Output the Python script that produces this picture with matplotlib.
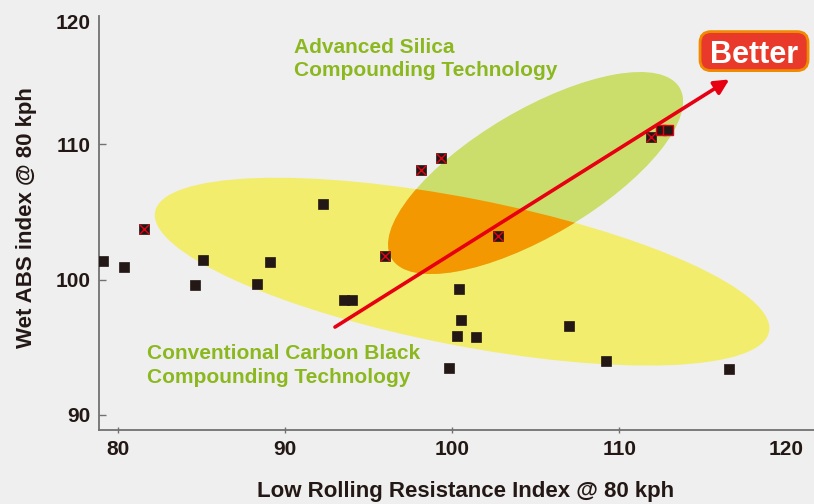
import matplotlib
matplotlib.use("Agg")
import matplotlib.pyplot as plt
from matplotlib.patches import Ellipse, FancyBboxPatch
from matplotlib.transforms import ScaledTranslation

# ---------------- data ----------------
# conventional compounds (black squares)
conv_x = [79.07, 80.35, 85.08, 84.60, 89.09, 88.31, 92.28, 93.52, 94.00,
          100.41, 100.53, 100.29, 101.43, 106.99, 99.81, 109.21, 116.57]
conv_y = [101.34, 100.92, 101.42, 99.57, 101.27, 99.65, 105.55, 98.46, 98.46,
          99.28, 96.99, 95.81, 95.73, 96.55, 93.45, 93.96, 93.37]
# silica compounds (black squares with red cross)
sil_x = [81.53, 95.96, 98.11, 99.31, 102.72, 111.89]
sil_y = [103.75, 101.71, 108.06, 108.94, 103.19, 110.49]
# silica compounds (black squares with red edge)
sil2_x = [112.50, 112.92]
sil2_y = [111.03, 111.03]

x_ticks = [80, 90, 100, 110, 120]
y_ticks = [90, 100, 110]
y_top_label = "120"

arrow_start = (92.98, 96.49)
arrow_end = (116.59, 114.77)

xlabel = "Low Rolling Resistance Index @ 80 kph"
ylabel = "Wet ABS index @ 80 kph"
silica_label = "Advanced Silica\nCompounding Technology"
carbon_label = "Conventional Carbon Black\nCompounding Technology"
better_label = "Better"

# ---------------- style ----------------
BG = "#efefef"
DARK = "#231815"
SPINE = "#727171"
YELLOW = "#f3ed6d"
GREEN = "#cbdd6a"
ORANGE = "#f39800"
RED = "#e60012"
TXTGREEN = "#8cb81f"
FONT = "Liberation Sans"

plt.rcParams["font.family"] = [FONT, "DejaVu Sans"]

fig = plt.figure(figsize=(8.14, 5.04), dpi=100, facecolor=BG)
ax = fig.add_axes([0.1216, 0.1468, 0.8784, 0.8214])
ax.set_facecolor(BG)
ax.set_xlim(78.85, 121.66)
ax.set_ylim(88.89, 119.45)

def ell(center, w_in, h_in, angle, **kw):
    tr = fig.dpi_scale_trans + ScaledTranslation(center[0], center[1], ax.transData)
    return Ellipse((0, 0), w_in, h_in, angle=angle, transform=tr, **kw)

yellow = ell((100.59, 100.58), 6.256, 1.472, -11.06, facecolor=YELLOW, edgecolor="none", zorder=1)
ax.add_patch(yellow)
green = ell((104.99, 107.86), 3.348, 1.256, 30.65, facecolor=GREEN, edgecolor="none", zorder=1.1)
ax.add_patch(green)
orange = ell((104.99, 107.86), 3.348, 1.256, 30.65, facecolor=ORANGE, edgecolor="none", zorder=1.2)
ax.add_patch(orange)
orange.set_clip_path(yellow)

ax.annotate("", xy=arrow_end, xytext=arrow_start,
            arrowprops=dict(arrowstyle="-|>", color=RED, lw=2.6,
                            mutation_scale=22, shrinkA=0, shrinkB=0),
            zorder=2)

ax.plot(conv_x, conv_y, ls="none", marker="s", ms=7.2, mfc=DARK, mec=DARK, mew=0.5, zorder=3)
ax.plot(sil_x, sil_y, ls="none", marker="s", ms=7.2, mfc=DARK, mec=DARK, mew=0.5, zorder=3)
ax.plot(sil_x, sil_y, ls="none", marker="x", ms=6.5, mec=RED, mew=1.0, zorder=3.1)
ax.plot(sil2_x, sil2_y, ls="none", marker="s", ms=7.0, mfc=DARK, mec=RED, mew=1.0, zorder=3)

# texts
ax.text(0.273, 0.948, silica_label, transform=ax.transAxes, color=TXTGREEN,
        fontsize=15, fontweight="bold", ha="left", va="top", linespacing=1.32)
ax.text(0.067, 0.208, carbon_label, transform=ax.transAxes, color=TXTGREEN,
        fontsize=15, fontweight="bold", ha="left", va="top", linespacing=1.32)

# Better box
btr = fig.dpi_scale_trans + ScaledTranslation(118.07, 116.86, ax.transData)
box = FancyBboxPatch((-0.50, -0.155), 1.00, 0.31,
                     boxstyle="round,pad=0.04,rounding_size=0.11",
                     transform=btr, facecolor="#e8392a", edgecolor="#f08a00",
                     lw=2.0, zorder=4, clip_on=False)
ax.add_patch(box)
ax.text(118.07, 116.86, better_label, color="white", fontsize=22, fontweight="bold",
        ha="center", va="center_baseline", zorder=5)

# axes styling
for s in ("top", "right"):
    ax.spines[s].set_visible(False)
for s in ("left", "bottom"):
    ax.spines[s].set_color(SPINE)
    ax.spines[s].set_linewidth(1.3)

ax.set_xticks(x_ticks)
ax.set_xticklabels([str(v) for v in x_ticks])
ax.set_yticks(y_ticks + [119.08])
ax.set_yticklabels([str(v) for v in y_ticks] + [y_top_label])
ax.yaxis.get_major_ticks()[-1].tick1line.set_visible(False)
ax.xaxis.get_major_ticks()[-1].tick1line.set_visible(False)
ax.tick_params(axis="x", direction="inout", length=5, width=1, color=SPINE,
               labelsize=15, labelcolor=DARK, pad=5)
ax.tick_params(axis="y", direction="in", length=5, width=1, color=SPINE,
               labelsize=15, labelcolor=DARK, pad=6)
for lab in ax.get_xticklabels() + ax.get_yticklabels():
    lab.set_fontweight("bold")

ax.set_xlabel(xlabel, fontsize=16, fontweight="bold", color=DARK)
ax.set_ylabel(ylabel, fontsize=16, fontweight="bold", color=DARK)
ax.xaxis.set_label_coords(0.5126, -0.122)
ax.yaxis.set_label_coords(-0.086, 0.512)

fig.savefig("out.png", dpi=100, facecolor=BG)
